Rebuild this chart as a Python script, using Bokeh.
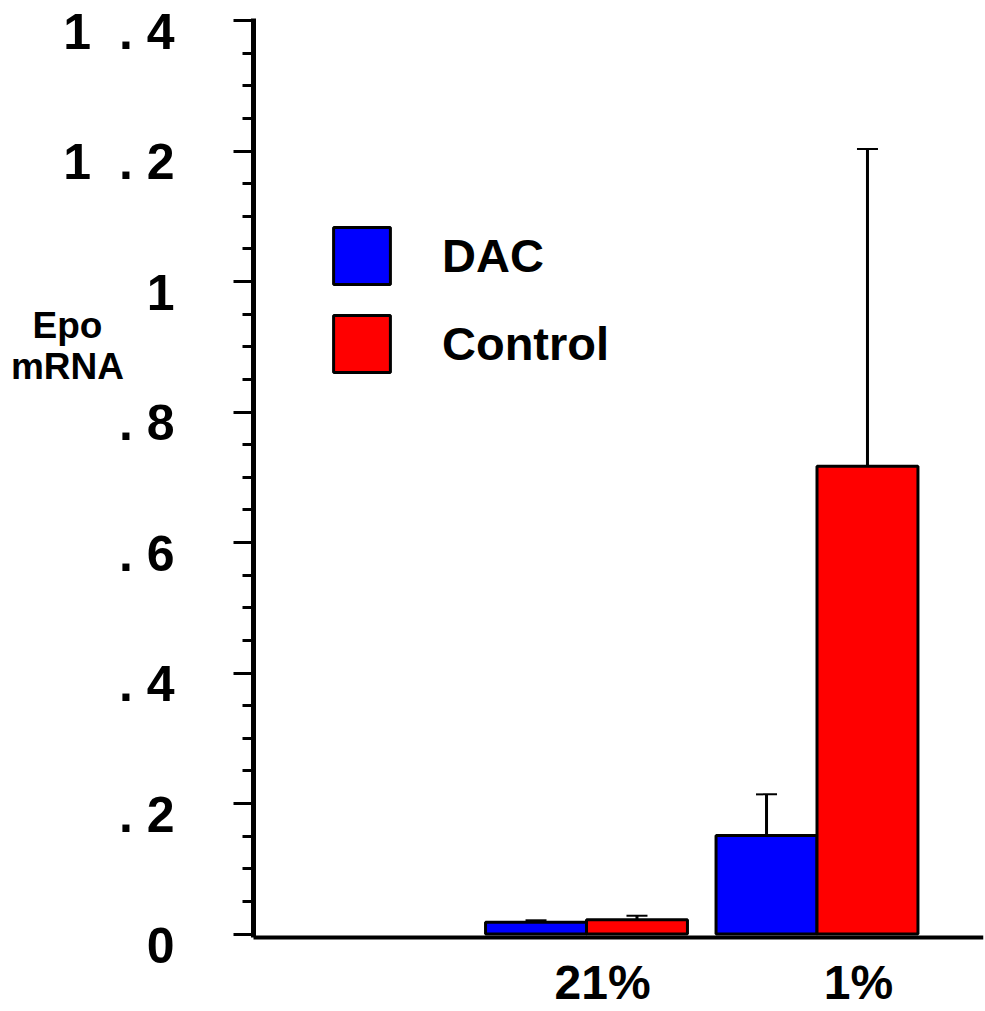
import numpy as np
from bokeh.plotting import figure
from bokeh.models import (ColumnDataSource, LinearAxis, FixedTicker, Range1d, Whisker,
                          TeeHead, Legend, LegendItem, Label)
from bokeh.core.properties import value
from bokeh.embed import file_html
from bokeh.resources import INLINE

# ---- data ----
categories = ["21%", "1%"]
dac = [0.018, 0.151]
dac_err = [0.003, 0.063]
control = [0.022, 0.717]
control_err = [0.006, 0.486]
y_ticks = [0, 0.2, 0.4, 0.6, 0.8, 1.0, 1.2, 1.4]
y_tick_labels = ["0", ". 2", ". 4", ". 6", ". 8", "1", "1\u00a0 . 2", "1\u00a0 . 4"]
y_title = "Epo\nmRNA"

FONT = "Liberation Sans"
FW, FH = 983, 1011          # frame size in px (frame starts at the page's top-left)

# pixel <-> data layout (x: one unit per category slot, y: value)
X_ORIGIN, X_PPU = 355.5, 230.5
Y_ZERO, Y_PPU = 933.5, 652.47
def xv(px):
    return (px - X_ORIGIN) / X_PPU
def yv(py):
    return (Y_ZERO - py) / Y_PPU

AXIS_X = xv(253)            # where the value axis stands
AXIS_Y = yv(937)            # where the category axis stands
TOP_Y = yv(18)              # top end of the value axis

pos = np.arange(len(categories)) + 1.0
bw = 0.438
off = 0.219
label_nudge = [0.07, 0.18]

p = figure(frame_width=FW, frame_height=FH, output_backend="svg", toolbar_location=None,
           x_range=Range1d(xv(0), xv(FW)), y_range=Range1d(yv(FH), yv(0)),
           x_axis_location=None, y_axis_location=None,
           min_border_left=0, min_border_right=2, min_border_top=0, min_border_bottom=0)
p.outline_line_color = None
p.xgrid.visible = False
p.ygrid.visible = False
p.background_fill_color = "white"
p.border_fill_color = "white"

src_d = ColumnDataSource(dict(x=pos - off, top=dac, upper=np.array(dac) + np.array(dac_err)))
src_c = ColumnDataSource(dict(x=pos + off, top=control, upper=np.array(control) + np.array(control_err)))

r_d = p.vbar(x="x", top="top", bottom=0, width=bw, source=src_d,
             fill_color="#0000FF", line_color="black", line_width=3)
r_c = p.vbar(x="x", top="top", bottom=0, width=bw, source=src_c,
             fill_color="#FF0000", line_color="black", line_width=3)

for s in (src_d, src_c):
    p.add_layout(Whisker(source=s, base="x", upper="upper", lower="top", dimension="height",
                         lower_head=None, upper_head=TeeHead(size=21, line_width=2, line_color="black"),
                         line_width=3, line_color="black"))

# value axis: line + ticks pointing left
minor = [round(v, 2) for v in np.arange(0, 1.4001, 0.05) if round(v * 20) % 4 != 0]
ya = LinearAxis(ticker=FixedTicker(ticks=y_ticks, minor_ticks=minor),
                fixed_location=AXIS_X, bounds=(AXIS_Y, TOP_Y))
ya.axis_line_width = 5
ya.major_tick_line_width = 3
ya.minor_tick_line_width = 3
ya.major_tick_in = 20
ya.major_tick_out = 0
ya.minor_tick_in = 11
ya.minor_tick_out = 0
ya.major_label_standoff = 0
ya.major_label_overrides = {t: "" for t in y_ticks}
p.add_layout(ya, "right")

# category axis line
xa = LinearAxis(ticker=FixedTicker(ticks=[], minor_ticks=[]),
                fixed_location=AXIS_Y, bounds=(AXIS_X, xv(FW)))
xa.axis_line_width = 4
xa.major_tick_line_color = None
xa.minor_tick_line_color = None
xa.major_tick_in = 0
xa.major_tick_out = 0
xa.major_label_standoff = 0
p.add_layout(xa, "below")

# value tick labels (slightly below their ticks, as in the original)
p.text(x=xv(174), y=y_ticks, text=y_tick_labels, y_offset=11,
       text_align="right", text_baseline="middle", text_color="black",
       text_font=value(FONT), text_font_style="bold", text_font_size="50px")

# category labels
p.text(x=pos + np.array(label_nudge), y=0, text=categories, y_offset=48,
       text_align="center", text_baseline="middle", text_color="black",
       text_font=value(FONT), text_font_style="bold", text_font_size="48px")

legend = Legend(items=[LegendItem(label="DAC", renderers=[r_d]),
                       LegendItem(label="Control", renderers=[r_c])],
                location=(326, FH - 379), glyph_width=71, glyph_height=71, spacing=17,
                padding=0, margin=0, label_standoff=45,
                label_text_font=FONT, label_text_font_style="bold", label_text_font_size="47px",
                label_text_color="black",
                border_line_color=None, background_fill_alpha=0)
p.add_layout(legend)

p.add_layout(Label(x=xv(67), y=yv(345), text=y_title, text_align="center", text_baseline="middle",
                   text_color="black", text_line_height=1.0,
                   text_font=FONT, text_font_style="bold", text_font_size="37px"))

open("out.html", "w").write(file_html(p, INLINE))
